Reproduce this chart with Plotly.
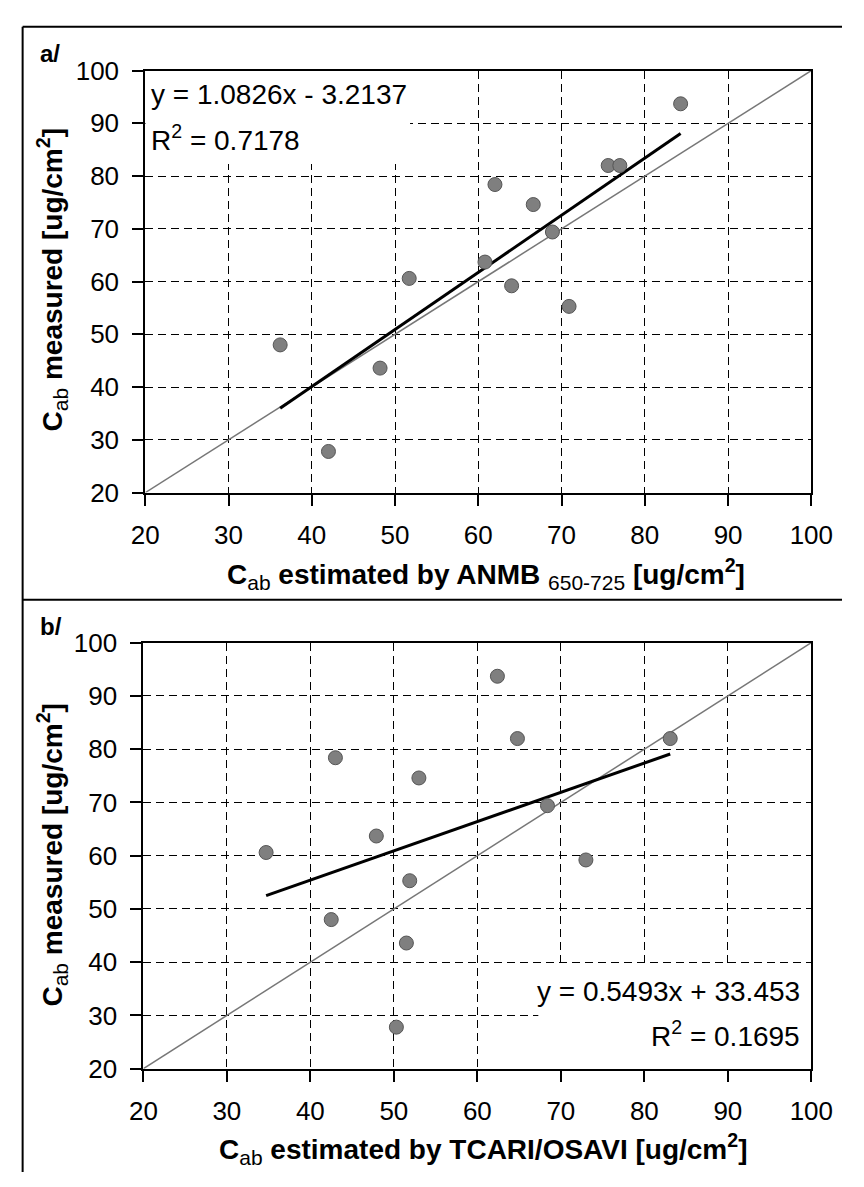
import plotly.graph_objects as go

W, H = 864, 1187

# ---- data ----
measured = [93.7, 82.0, 82.0, 78.4, 74.6, 69.4, 63.7, 59.2, 55.3, 60.6, 48.0, 43.6, 27.8]
est_anmb = [84.3, 75.6, 77.0, 62.0, 66.6, 68.9, 60.8, 64.0, 70.9, 51.7, 36.2, 48.2, 42.0]
est_tcari = [62.4, 64.8, 83.1, 43.0, 53.0, 68.4, 47.9, 73.0, 51.9, 34.7, 42.5, 51.5, 50.3]

slope_a, intercept_a, r2_a = 1.0826, -3.2137, 0.7178
slope_b, intercept_b, r2_b = 0.5493, 33.453, 0.1695

one_to_one = [20, 100]
tick_vals = [20, 30, 40, 50, 60, 70, 80, 90, 100]

FONT = "Liberation Sans, Arial, sans-serif"


def px(x):
    return x / W


def py(y):
    return 1 - y / H


fig = go.Figure()

panels = [
    dict(xa="x", ya="y", xs=est_anmb, slope=slope_a, icpt=intercept_a),
    dict(xa="x2", ya="y2", xs=est_tcari, slope=slope_b, icpt=intercept_b),
]

for p in panels:
    fig.add_trace(go.Scatter(x=one_to_one, y=one_to_one, mode="lines",
                             line=dict(color="#777777", width=1.5),
                             xaxis=p["xa"], yaxis=p["ya"], showlegend=False,
                             hoverinfo="skip"))
    x0, x1 = min(p["xs"]), max(p["xs"])
    fig.add_trace(go.Scatter(x=[x0, x1],
                             y=[p["slope"] * x0 + p["icpt"], p["slope"] * x1 + p["icpt"]],
                             mode="lines", line=dict(color="black", width=3),
                             xaxis=p["xa"], yaxis=p["ya"], showlegend=False))
    fig.add_trace(go.Scatter(x=p["xs"], y=measured, mode="markers",
                             marker=dict(size=14, color="#7f7f7f",
                                         line=dict(color="#555555", width=1)),
                             xaxis=p["xa"], yaxis=p["ya"], showlegend=False))

axis_common = dict(
    range=[20, 100], tickvals=tick_vals, showline=True, linecolor="black",
    linewidth=2, mirror=True, ticks="outside", ticklen=11, tickwidth=2,
    tickcolor="black", showgrid=True, gridcolor="black", gridwidth=1.2,
    griddash="8px,5px", zeroline=False, fixedrange=True,
    tickfont=dict(family=FONT, size=26, color="black"),
)

fig.update_layout(
    width=W, height=H, margin=dict(l=0, r=0, t=0, b=0),
    paper_bgcolor="white", plot_bgcolor="white",
    xaxis=dict(axis_common, domain=[px(137), px(832)], anchor="y", ticklabelstandoff=7),
    yaxis=dict(axis_common, domain=[py(490), py(57)], anchor="x", ticklabelstandoff=8),
    xaxis2=dict(axis_common, domain=[px(135), px(832)], anchor="y2", ticklabelstandoff=7),
    yaxis2=dict(axis_common, domain=[py(1081), py(644)], anchor="x2", ticklabelstandoff=8),
)

shapes = [
    # white boxes behind equations (cover the grid)
    dict(type="rect", xref="x", yref="y", x0=20, x1=51.8, y0=82.3, y1=100,
         fillcolor="white", line=dict(width=0), layer="between"),
    dict(type="rect", xref="x2", yref="y2", x0=67.3, x1=100, y0=20, y1=39.6,
         fillcolor="white", line=dict(width=0), layer="between"),
    # panel borders
    dict(type="line", xref="paper", yref="paper", x0=px(9), x1=1, y0=py(12), y1=py(12),
         line=dict(color="black", width=2)),
    dict(type="line", xref="paper", yref="paper", x0=px(9), x1=px(9), y0=py(12), y1=0,
         line=dict(color="black", width=2)),
    dict(type="line", xref="paper", yref="paper", x0=px(9), x1=1, y0=py(600), y1=py(600),
         line=dict(color="black", width=2)),
]
fig.update_layout(shapes=shapes)

ann = []


def add_text(text, x, y, size, xanchor="center", bold=False, angle=0):
    ann.append(dict(text=text, x=px(x), y=py(y), xref="paper", yref="paper",
                    xanchor=xanchor, yanchor="middle", showarrow=False,
                    textangle=angle,
                    font=dict(family=FONT, size=size, color="black",
                              weight="bold" if bold else "normal")))


add_text("a/", 38, 40, 24, bold=True)
add_text("b/", 39, 627, 24, bold=True)

add_text(f"y = {slope_a}x - {abs(intercept_a)}", 141, 82, 28, xanchor="left")
add_text(f"R<sup>2</sup> = {r2_a}", 141, 126, 28, xanchor="left")
add_text(f"y = {slope_b}x + {intercept_b}", 822, 1002, 28, xanchor="right")
add_text(f"R<sup>2</sup> = {r2_b}", 822, 1045, 28, xanchor="right")

sub = lambda s: f"<sub><span style='font-weight:normal;font-size:21px'>{s}</span></sub>"
add_text(f"C{sub('ab')} estimated by ANMB {sub('650-725')} [ug/cm<sup>2</sup>]",
         492, 573, 28, bold=True)
add_text(f"C{sub('ab')} estimated by TCARI/OSAVI [ug/cm<sup>2</sup>]",
         490, 1163, 28, bold=True)
add_text(f"C{sub('ab')} measured [ug/cm<sup>2</sup>]", 40, 272, 28, bold=True, angle=-90)
add_text(f"C{sub('ab')} measured [ug/cm<sup>2</sup>]", 40, 862, 28, bold=True, angle=-90)

fig.update_layout(annotations=ann)

fig.write_html(
    "out.html",
    post_script="document.body.style.margin='0';document.body.style.overflow='hidden';",
)
